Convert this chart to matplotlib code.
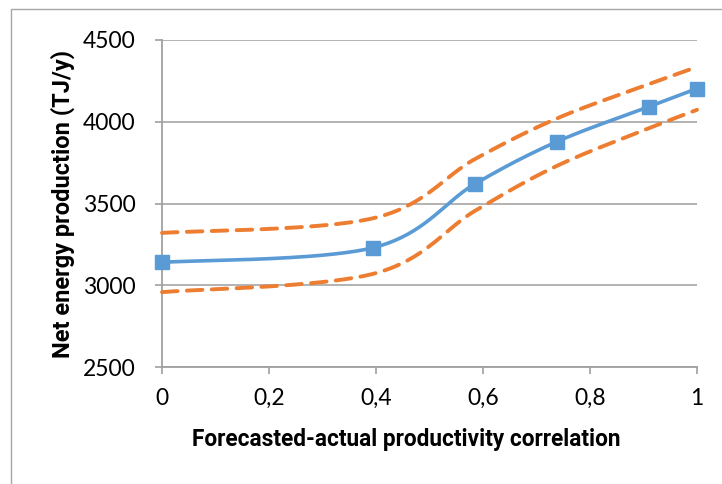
import numpy as np
import matplotlib
matplotlib.use("Agg")
import matplotlib.pyplot as plt
from matplotlib.patches import Rectangle

# ---- data ----
x_vals = [0.0, 0.395, 0.585, 0.738, 0.91, 1.0]
mean_vals = [3140, 3230, 3620, 3878, 4092, 4203]
upper_vals = [3320, 3410, 3772, 4020, 4230, 4335]
lower_vals = [2958, 3070, 3455, 3730, 3960, 4073]
x_ticks = [0, 0.2, 0.4, 0.6, 0.8, 1.0]
x_tick_labels = ["0", "0,2", "0,4", "0,6", "0,8", "1"]
y_ticks = [2500, 3000, 3500, 4000, 4500]
x_label = "Forecasted-actual productivity correlation"
y_label = "Net energy production (TJ/y)"


def smooth(xs, ys, n=40):
    """Excel-like smoothed line (Catmull-Rom bezier)."""
    xs = np.asarray(xs, float)
    ys = np.asarray(ys, float)
    P = np.column_stack([xs, ys])
    out = []
    m = len(P)
    for i in range(m - 1):
        p0 = P[i - 1] if i > 0 else P[i]
        p1 = P[i]
        p2 = P[i + 1]
        p3 = P[i + 2] if i + 2 < m else P[i + 1]
        c1 = p1 + (p2 - p0) / 6.0
        c2 = p2 - (p3 - p1) / 6.0
        t = np.linspace(0, 1, n)[:, None]
        seg = ((1 - t) ** 3) * p1 + 3 * ((1 - t) ** 2) * t * c1 + 3 * (1 - t) * t ** 2 * c2 + t ** 3 * p2
        if i > 0:
            seg = seg[1:]
        out.append(seg)
    arr = np.vstack(out)
    return arr[:, 0], arr[:, 1]


plt.rcParams['font.family'] = ['Lato', 'DejaVu Sans']

W, H = 722, 484
fig = plt.figure(figsize=(W / 100, H / 100), dpi=100)
fig.patch.set_facecolor("white")

# outer chart frame
fig.add_artist(Rectangle((11 / W, -0.1), 1.2, 1 - 9 / H + 0.1, transform=fig.transFigure,
                         fill=False, edgecolor="#A6A6A6", linewidth=1.0))

ax = fig.add_axes([162 / W, 1 - 367 / H, (697 - 162) / W, (367 - 40) / H])

blue = "#5B9BD5"
orange = "#ED7D31"

ux, uy = smooth(x_vals, upper_vals)
lx, ly = smooth(x_vals, lower_vals)
mx, my = smooth(x_vals, mean_vals)

ax.plot(ux, uy, color=orange, lw=2.8, dashes=(4.0, 2.4), dash_capstyle="round",
        clip_on=False, zorder=3)
ax.plot(lx, ly, color=orange, lw=2.8, dashes=(4.0, 2.4), dash_capstyle="round",
        clip_on=False, zorder=3)
ax.plot(mx, my, color=blue, lw=2.6, clip_on=False, zorder=4)
ax.plot(x_vals, mean_vals, linestyle="none", marker="s", markersize=10.5,
        color=blue, clip_on=False, zorder=5)

ax.set_xlim(0, 1)
ax.set_ylim(2500, 4500)
ax.set_xticks(x_ticks)
ax.set_xticklabels(x_tick_labels)
ax.set_yticks(y_ticks)

ax.grid(axis="y", color="#ADADAD", linewidth=1.3)
ax.set_axisbelow(True)
for s in ["top", "right"]:
    ax.spines[s].set_visible(False)
for s in ["left", "bottom"]:
    ax.spines[s].set_color("#A0A0A0")
    ax.spines[s].set_linewidth(1.3)

ax.tick_params(axis="both", colors="#A0A0A0", labelcolor="black", labelsize=16.5,
               length=5, width=1.2, direction="out")
ax.tick_params(axis="x", pad=10)
ax.tick_params(axis="y", pad=14)

ax.set_xlabel(x_label, family=["Roboto", "DejaVu Sans"],
              fontsize=16.3, fontweight="bold")
ax.xaxis.set_label_coords((406 - 162) / 535, (367 - 428) / 327)
ax.set_ylabel(y_label, labelpad=6, family=["Roboto", "DejaVu Sans"],
              fontsize=17, fontweight="bold")

fig.savefig("out.png", dpi=100)
